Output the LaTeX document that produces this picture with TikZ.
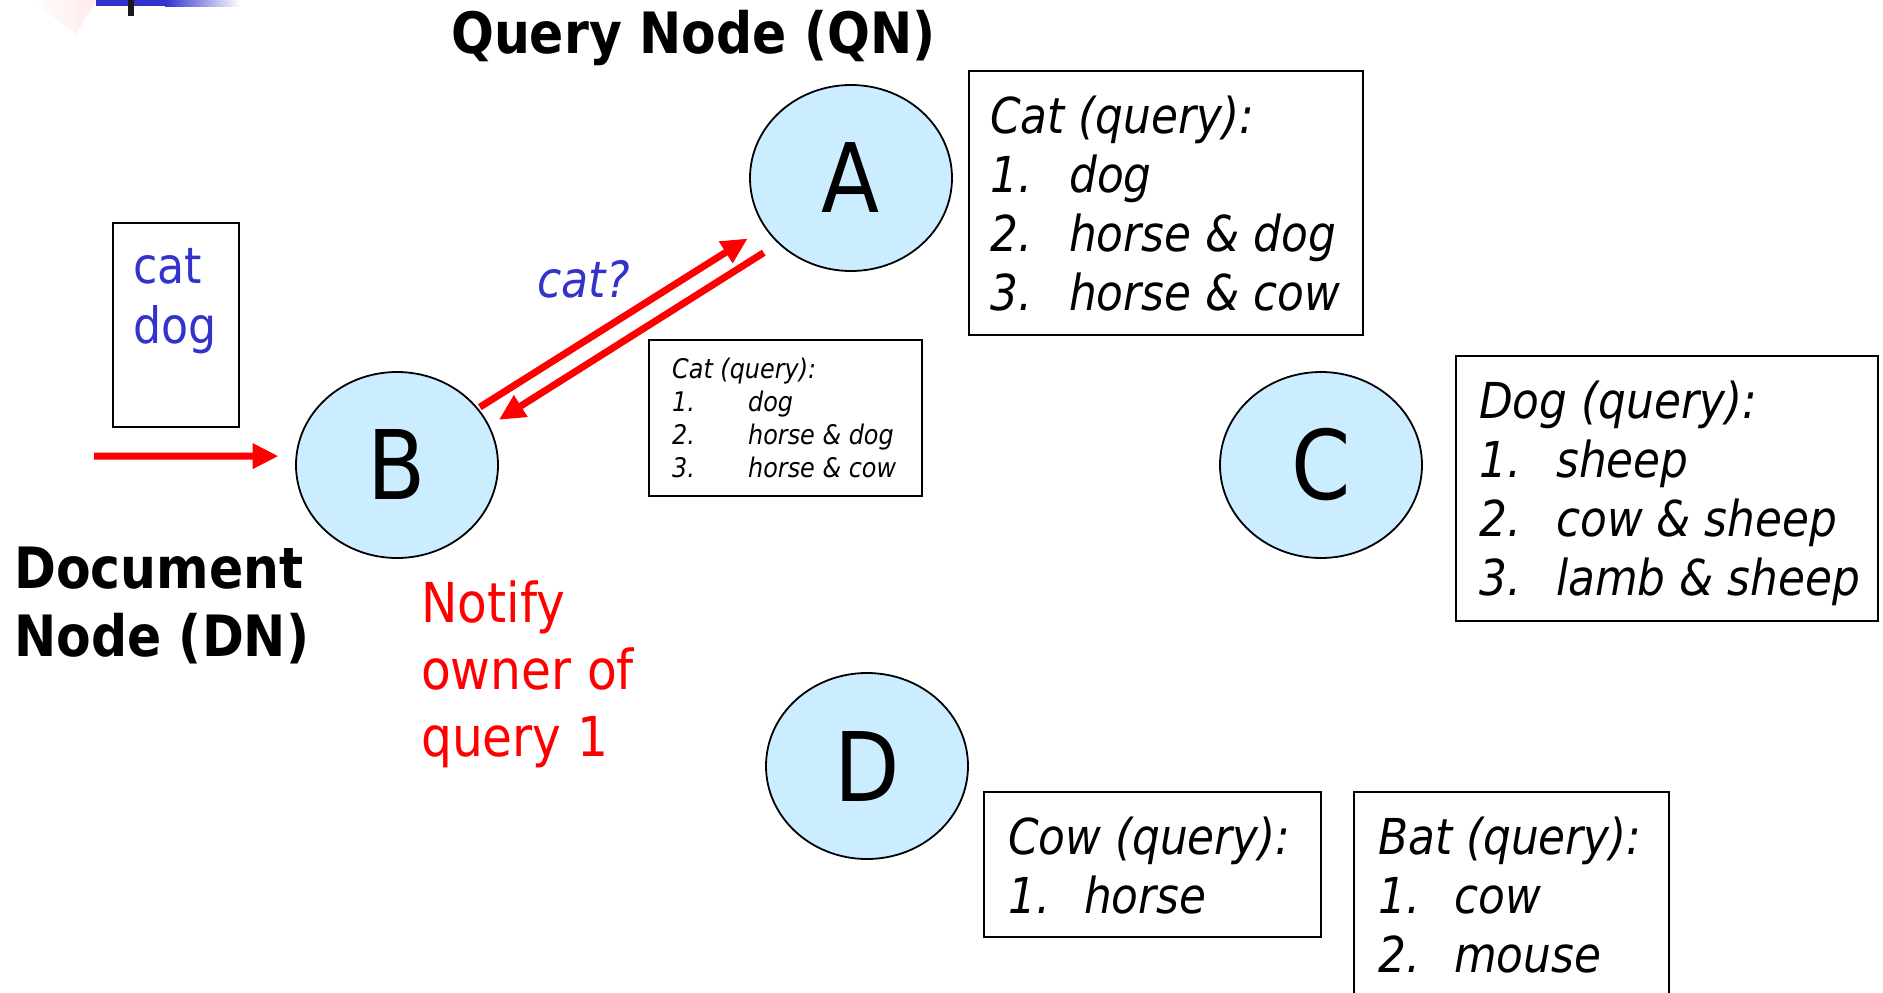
\documentclass[tikz,border=0pt]{standalone}
\usepackage{fontspec}
\newfontfamily\tah{DejaVu Sans}[FakeStretch=0.885]
\usetikzlibrary{arrows.meta,calc,shapes.geometric}
\definecolor{nodefill}{HTML}{CCECFF}
\definecolor{qblue}{HTML}{3333CC}
\definecolor{alertred}{HTML}{FF0000}

\tikzset{
  peer/.style={ellipse, draw=black, line width=1.8pt, fill=nodefill,
    minimum width=202pt, minimum height=186pt, inner sep=0pt,
    font=\tah\fontsize{96}{110}\selectfont},
  qbox/.style={draw=black, line width=2.2pt, inner sep=0pt, anchor=north west},
  qtext/.style={anchor=base west, inner sep=0pt,
    font=\tah\itshape\fontsize{49.5}{59}\selectfont},
  smalltext/.style={anchor=base west, inner sep=0pt,
    font=\tah\itshape\fontsize{27}{33}\selectfont},
  titletext/.style={anchor=base west, inner sep=0pt,
    font=\tah\bfseries\fontsize{57}{68}\selectfont},
  wordtext/.style={anchor=base west, inner sep=0pt, text=qblue,
    font=\tah\fontsize{50}{60}\selectfont},
  notetext/.style={anchor=base west, inner sep=0pt, text=alertred,
    font=\tah\fontsize{55}{67}\selectfont},
  msg/.style={draw=alertred, line width=7pt,
    -{Triangle[length=26pt,width=24pt]}},
}

\newcommand{\qlist}[2]{\begin{tabular}[t]{@{}p{#1}@{}l@{}}#2\end{tabular}}

\begin{document}
\begin{tikzpicture}[x=1pt,y=-1pt]
\useasboundingbox (0,0) rectangle (1883,993);
\clip (0,0) rectangle (1883,993);

% slide header ornament
\shade[left color=white, right color=red!8] (30,0) -- (97,0) -- (76,34) -- cycle;
\fill[qblue] (96,0) rectangle (165,6);
\shade[left color=qblue, right color=white] (165,0) rectangle (240,6);
\fill[black!90] (128,0) rectangle (134,16);

% peers
\node[peer] (A) at (851,178) {A};
\node[peer] (B) at (397,465) {B};
\node[peer] (C) at (1321,465) {C};
\node[peer] (D) at (867,766) {D};

% headings
\node[titletext] (qn) at (451,53) {Query Node (QN)};
\node[titletext] (dn) at (14,588) {\begin{tabular}[t]{@{}l@{}}Document\\Node (DN)\end{tabular}};

% document held by the document node
\node[qbox, minimum width=126pt, minimum height=204pt] (doc) at (112,222) {};
\node[wordtext] (doctext) at (133,283) {\begin{tabular}[t]{@{}l@{}}cat\\dog\end{tabular}};

% incoming document and query exchange
\coordinate (docin) at (94,456);
\draw[msg, shorten >=17pt] (docin) -- (B.175);
\draw[msg, shorten >=20pt, shorten <=2pt] (B.35) -- (A.210);
\draw[msg, shorten >=11pt, shorten <=17pt] (A.222) -- (B.23.5);
\node[wordtext, font=\tah\itshape\fontsize{50}{60}\selectfont] (ask) at (537,297) {cat?};

% query returned to the document node
\node[qbox, minimum width=273pt, minimum height=156pt] (reply) at (648,339) {};
\node[smalltext] (replytext) at (672,378)
  {\qlist{76pt}{\multicolumn{2}{@{}l@{}}{Cat (query):}\\1.&dog\\2.&horse \& dog\\3.&horse \& cow}};

% query tables stored at the query nodes
\node[qbox, minimum width=394pt, minimum height=264pt] (catq) at (968,70) {};
\node[qtext] (catqtext) at (990,133)
  {\qlist{79pt}{\multicolumn{2}{@{}l@{}}{Cat (query):}\\1.&dog\\2.&horse \& dog\\3.&horse \& cow}};

\node[qbox, minimum width=422pt, minimum height=265pt] (dogq) at (1455,355) {};
\node[qtext] (dogqtext) at (1479,418)
  {\qlist{77pt}{\multicolumn{2}{@{}l@{}}{Dog (query):}\\1.&sheep\\2.&cow \& sheep\\3.&lamb \& sheep}};

\node[qbox, minimum width=337pt, minimum height=145pt] (cowq) at (983,791) {};
\node[qtext] (cowqtext) at (1008,854)
  {\qlist{76pt}{\multicolumn{2}{@{}l@{}}{Cow (query):}\\1.&horse}};

\node[qbox, minimum width=315pt, minimum height=240pt] (batq) at (1353,791) {};
\node[qtext] (batqtext) at (1378,854)
  {\qlist{76pt}{\multicolumn{2}{@{}l@{}}{Bat (query):}\\1.&cow\\2.&mouse}};

% notification
\node[notetext] (notify) at (421,622)
  {\begin{tabular}[t]{@{}l@{}}Notify\\owner of\\query 1\end{tabular}};
\end{tikzpicture}
\end{document}
